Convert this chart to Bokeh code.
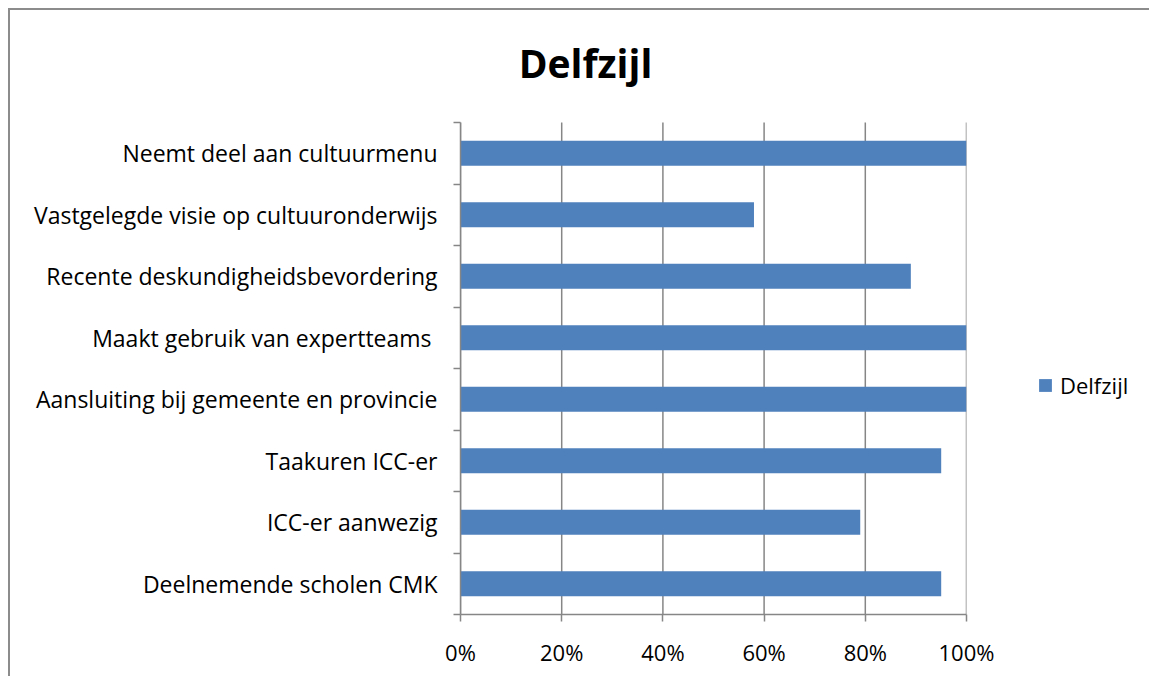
from bokeh.plotting import figure
from bokeh.models import (Range1d, FixedTicker, NumeralTickFormatter, Legend, LegendItem, Label)
from bokeh.embed import file_html
from bokeh.resources import INLINE

# Data (top to bottom as shown in the chart)
categories = [
    "Neemt deel aan cultuurmenu",
    "Vastgelegde visie op cultuuronderwijs",
    "Recente deskundigheidsbevordering",
    "Maakt gebruik van expertteams ",
    "Aansluiting bij gemeente en provincie",
    "Taakuren ICC-er",
    "ICC-er aanwezig",
    "Deelnemende scholen CMK",
]
values = [1.00, 0.58, 0.89, 1.00, 1.00, 0.95, 0.79, 0.95]
series_name = "Delfzijl"
x_ticks = [0, 0.2, 0.4, 0.6, 0.8, 1.0]

FONT = "Open Sans"
GRAY = "#868686"
BAR = "#4f81bd"

n = len(categories)
ypos = [n - i - 0.5 for i in range(n)]

CAT_PX = 492          # pixel height taken by the categories
FRAME_H = 604         # frame includes the title area above the categories
y_top = n * FRAME_H / CAT_PX

p = figure(output_backend="svg", toolbar_location=None, title=None,
           x_range=Range1d(0, 1), y_range=Range1d(0, y_top),
           frame_width=506, frame_height=FRAME_H,
           min_border_left=450, min_border_top=0, min_border_right=183, min_border_bottom=62)
p.styles = {"margin-left": "8px", "margin-top": "8px",
            "border-left": "2px solid #8c8c8c", "border-top": "2px solid #8c8c8c"}
p.outline_line_color = None
p.background_fill_color = "white"
p.border_fill_color = "white"

# vertical gridlines only over the category area
p.segment(x0=x_ticks, y0=[0] * len(x_ticks), x1=x_ticks, y1=[n] * len(x_ticks),
          line_color=GRAY, line_width=1.5)
p.xgrid.grid_line_color = None
p.ygrid.grid_line_color = None

r = p.hbar(y=ypos, right=values, left=0, height=0.41, color=BAR, line_color=None)

# x axis
xa = p.xaxis[0]
xa.ticker = FixedTicker(ticks=x_ticks)
xa.formatter = NumeralTickFormatter(format="0%")
xa.axis_line_color = GRAY
xa.axis_line_width = 1.5
xa.major_tick_line_color = GRAY
xa.major_tick_line_width = 1.5
xa.major_tick_out = 7
xa.major_tick_in = 0
xa.minor_tick_line_color = None
xa.major_label_text_font = FONT
xa.major_label_text_font_size = "22px"
xa.major_label_text_color = "black"
xa.major_label_standoff = 15

# y axis
ya = p.yaxis[0]
ya.bounds = (0, n)
ya.ticker = FixedTicker(ticks=ypos, minor_ticks=list(range(n + 1)))
ya.major_label_overrides = {y: c for y, c in zip(ypos, categories)}
ya.axis_line_color = GRAY
ya.axis_line_width = 1.5
ya.major_tick_line_color = None
ya.major_tick_out = 0
ya.major_tick_in = 0
ya.minor_tick_line_color = GRAY
ya.minor_tick_line_width = 1.5
ya.minor_tick_out = 7
ya.minor_tick_in = 0
ya.major_label_text_font = FONT
ya.major_label_text_font_size = "23px"
ya.major_label_text_color = "black"
ya.major_label_standoff = 16

legend = Legend(items=[LegendItem(label=series_name, renderers=[r])],
                location=(71, 214), orientation="vertical",
                glyph_width=16, glyph_height=16, label_height=20,
                label_standoff=7, padding=0, margin=0, spacing=0,
                label_text_font=FONT, label_text_font_size="22px",
                label_text_color="black",
                border_line_color=None, background_fill_alpha=0)
p.add_layout(legend, "right")

title = Label(x=0.247, y=n + 60 / 61.5, text=series_name, text_align="center",
              text_baseline="middle", text_font=FONT, text_font_style="bold",
              text_font_size="39px", text_color="black")
p.add_layout(title)

open("out.html", "w").write(file_html(p, INLINE))
